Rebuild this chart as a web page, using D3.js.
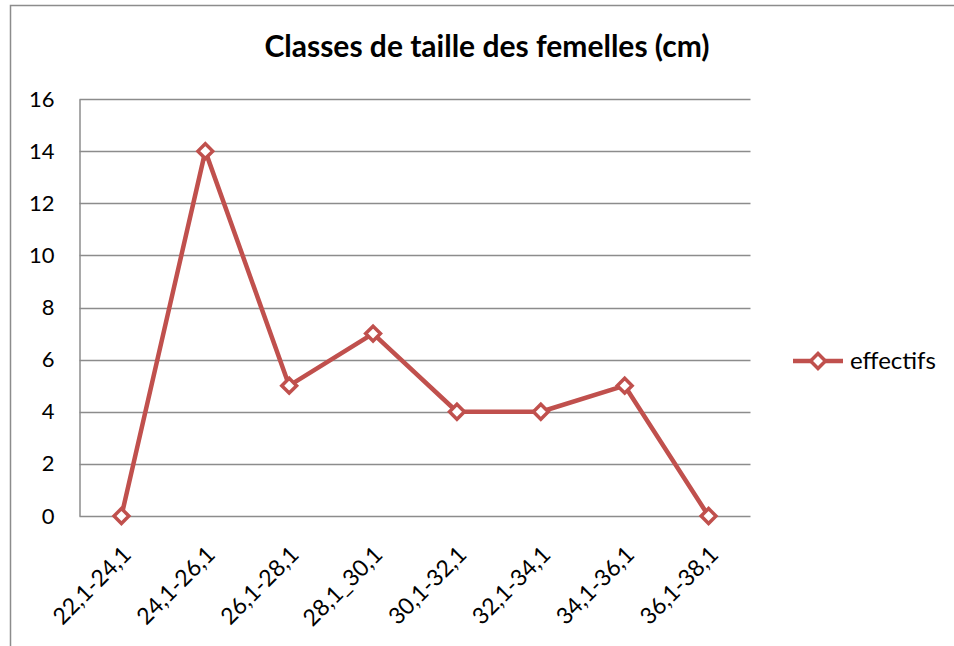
<!DOCTYPE html>
<html>
<head>
<meta charset="utf-8">
<script src="https://cdn.jsdelivr.net/npm/d3@7"></script>
<style>
  body { margin: 0; background: #fff; }
  svg { display: block; font-family: Lato, "Open Sans", sans-serif; }
</style>
</head>
<body>
<svg id="chart" width="954" height="646"></svg>
<script>
'use strict';

// data
var categories = ['22,1-24,1', '24,1-26,1', '26,1-28,1', '28,1_30,1', '30,1-32,1', '32,1-34,1', '34,1-36,1', '36,1-38,1'];
var effectifs = [0, 14, 5, 7, 4, 4, 5, 0];
var yTicks = [0, 2, 4, 6, 8, 10, 12, 14, 16];
var seriesName = 'effectifs';
var title = 'Classes de taille des femelles (cm)';

var red = '#c0504d';
var plotLeft = 79.5, plotRight = 750.5, plotTop = 99, plotBottom = 516;

var svg = d3.select('#chart');

// outer chart border (runs off the picture to the right and bottom)
svg.append('rect')
    .attr('x', 10.5).attr('y', 5.5)
    .attr('width', 1000).attr('height', 700)
    .attr('fill', 'none')
    .attr('stroke', '#8c8c8c')
    .attr('stroke-width', 1.5);

var x = d3.scaleBand()
    .domain(categories)
    .range([plotLeft, plotRight]);

var y = d3.scaleLinear()
    .domain([0, 16])
    .range([plotBottom, plotTop]);

// gridlines
svg.append('g')
    .selectAll('line')
    .data(yTicks)
  .enter().append('line')
    .attr('x1', plotLeft).attr('x2', plotRight)
    .attr('y1', function(d) { return Math.round(y(d)) + 0.5; })
    .attr('y2', function(d) { return Math.round(y(d)) + 0.5; })
    .attr('stroke', '#8c8c8c')
    .attr('stroke-width', 1.5);

// y axis
var yAxis = svg.append('g')
    .attr('transform', 'translate(' + plotLeft + ',0)')
    .call(d3.axisLeft(y).tickValues(yTicks).tickSize(0).tickPadding(25));
yAxis.select('.domain').attr('stroke', '#8c8c8c').attr('stroke-width', 1.5);
yAxis.selectAll('text')
    .attr('font-size', 22)
    .attr('fill', '#000')
    .style('font-family', 'Lato, sans-serif');

// x axis
var xAxis = svg.append('g')
    .attr('transform', 'translate(0,' + plotBottom + ')')
    .call(d3.axisBottom(x).tickSize(0).tickPadding(0));
xAxis.select('.domain').remove();
xAxis.selectAll('text')
    .attr('font-size', 23)
    .attr('fill', '#000')
    .style('font-family', 'Lato, sans-serif')
    .attr('text-anchor', 'end')
    .attr('dy', 0)
    .attr('transform', 'translate(11,40) rotate(-45)');

// line
var cx = function(d, i) { return x(categories[i]) + x.bandwidth() / 2; };
var line = d3.line()
    .x(cx)
    .y(function(d) { return y(d); });

svg.append('path')
    .datum(effectifs)
    .attr('d', line)
    .attr('fill', 'none')
    .attr('stroke', red)
    .attr('stroke-width', 4.5)
    .attr('stroke-linejoin', 'round');

var diamond = d3.symbol().type(d3.symbolDiamond2).size(140);

svg.append('g')
    .selectAll('path')
    .data(effectifs)
  .enter().append('path')
    .attr('d', diamond)
    .attr('transform', function(d, i) { return 'translate(' + cx(d, i) + ',' + y(d) + ')'; })
    .attr('fill', '#fff')
    .attr('stroke', red)
    .attr('stroke-width', 3.5);

// title
svg.append('text')
    .attr('x', 487).attr('y', 57)
    .attr('text-anchor', 'middle')
    .attr('font-size', 30)
    .attr('font-weight', 'bold')
    .text(title);

// legend
var legend = svg.append('g').attr('transform', 'translate(793,361)');
legend.append('line')
    .attr('x1', 0).attr('x2', 50)
    .attr('stroke', red).attr('stroke-width', 4.5);
legend.append('path')
    .attr('d', diamond)
    .attr('transform', 'translate(25,0)')
    .attr('fill', '#fff')
    .attr('stroke', red)
    .attr('stroke-width', 3.5);
legend.append('text')
    .attr('x', 57).attr('y', 8)
    .attr('font-size', 24)
    .text(seriesName);
</script>
</body>
</html>
